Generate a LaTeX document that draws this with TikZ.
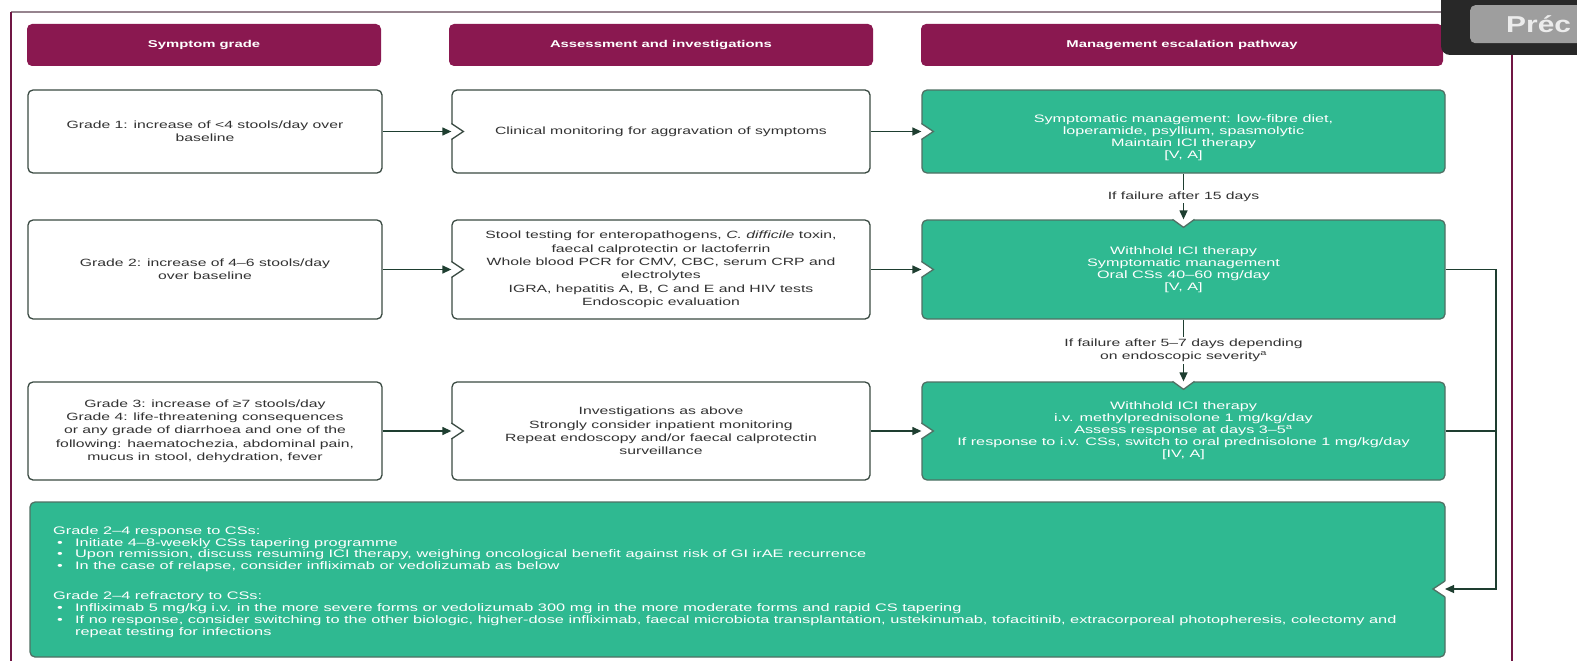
\documentclass[tikz,border=0pt]{standalone}
\usepackage{fontspec}
\setmainfont{Liberation Sans}[FakeStretch=1.5]
\newfontfamily\precfont{Liberation Sans}[FakeStretch=1.3]
\usetikzlibrary{arrows.meta}
\definecolor{hdrpurple}{RGB}{138,24,80}
\definecolor{framepurple}{RGB}{112,22,68}
\definecolor{framegray}{RGB}{150,132,142}
\definecolor{mgreen}{RGB}{47,185,145}
\definecolor{gline}{RGB}{80,112,100}
\definecolor{wline}{RGB}{58,74,66}
\definecolor{linkgreen}{RGB}{30,62,48}
\definecolor{txtgray}{RGB}{50,50,50}
\definecolor{precdark}{RGB}{40,40,40}
\definecolor{precgray}{RGB}{158,158,158}
\definecolor{precwhite}{RGB}{236,236,236}
\tikzset{
  hdr/.style={rectangle, rounded corners=5pt, fill=hdrpurple, minimum height=42pt, inner sep=0pt, text=white, font=\bfseries\fontsize{9.9}{12}\selectfont},
  wbox/.style={rectangle, rounded corners=5pt, draw=wline, line width=1.3pt, fill=white, text=txtgray, align=center, inner sep=0pt, font=\fontsize{10.5}{13.3}\selectfont},
  gbox/.style={rectangle, rounded corners=5pt, draw=gline, line width=1.3pt, fill=mgreen, text=white, align=center, inner sep=0pt, font=\fontsize{10.8}{12}\selectfont},
  lbl/.style={fill=white, text=txtgray, align=center, inner sep=2pt, font=\fontsize{10.5}{12.5}\selectfont},
  link/.style={draw=linkgreen, line width=1.3pt},
  arrowed/.style={-{Triangle[length=9pt,width=8pt]}},
}
\newcommand\notchleft[2]{%
  \fill[white] ([shift={(-1.5pt,8pt)}]#1) -- ([yshift=8pt]#1) -- ([xshift=12pt]#1) -- ([yshift=-8pt]#1) -- ([shift={(-1.5pt,-8pt)}]#1) -- cycle;
  \draw[#2, line width=1.3pt] ([yshift=8pt]#1) -- ([xshift=12pt]#1) -- ([yshift=-8pt]#1);}
\newcommand\notchtop[2]{%
  \fill[white] ([shift={(-11pt,1.5pt)}]#1) -- ([xshift=-11pt]#1) -- ([yshift=-8pt]#1) -- ([xshift=11pt]#1) -- ([shift={(11pt,1.5pt)}]#1) -- cycle;
  \draw[#2, line width=1.3pt] ([xshift=-11pt]#1) -- ([yshift=-8pt]#1) -- ([xshift=11pt]#1);}
\newcommand\notchright[2]{%
  \fill[white] ([shift={(1.5pt,8pt)}]#1) -- ([yshift=8pt]#1) -- ([xshift=-12pt]#1) -- ([yshift=-8pt]#1) -- ([shift={(1.5pt,-8pt)}]#1) -- cycle;
  \draw[#2, line width=1.3pt] ([yshift=8pt]#1) -- ([xshift=-12pt]#1) -- ([yshift=-8pt]#1);}
\newcommand\blt{\hspace*{4pt}\makebox[18pt][l]{\textbullet}}

\begin{document}
\begin{tikzpicture}[x=1pt,y=-1pt]
\useasboundingbox (0,0) rectangle (1577,661);
\clip (0,0) rectangle (1577,661);
\draw[framegray, line width=1.4pt] (11,12) -- (1512,12);
\draw[framepurple, line width=1.8pt] (11,12) -- (11,670);
\draw[framepurple, line width=1.8pt] (1512,12) -- (1512,670);

\node[hdr, minimum width=354pt] (hgrade) at (204,45) {Symptom grade};
\node[hdr, minimum width=424pt] (hassess) at (661,45) {Assessment and investigations};
\node[hdr, minimum width=522pt] (hmanage) at (1182,45) {Management escalation pathway};

\node[wbox, minimum width=354pt, minimum height=83pt] (g1) at (205,131.5) {Grade 1: increase of <4 stools/day over\\baseline};
\node[wbox, minimum width=354pt, minimum height=99pt] (g2) at (205,269.5) {Grade 2: increase of 4–6 stools/day\\over baseline};
\node[wbox, minimum width=354pt, minimum height=98pt] (g3) at (205,431) {Grade 3: increase of ≥7 stools/day\\Grade 4: life-threatening consequences\\or any grade of diarrhoea and one of the\\following: haematochezia, abdominal pain,\\mucus in stool, dehydration, fever};

\node[wbox, minimum width=418pt, minimum height=83pt] (m1) at (661,131.5) {Clinical monitoring for aggravation of symptoms};
\node[wbox, minimum width=418pt, minimum height=99pt] (m2) at (661,269.5) {Stool testing for enteropathogens, \textit{C. difficile} toxin,\\faecal calprotectin or lactoferrin\\Whole blood PCR for CMV, CBC, serum CRP and\\electrolytes\\IGRA, hepatitis A, B, C and E and HIV tests\\Endoscopic evaluation};
\node[wbox, minimum width=418pt, minimum height=98pt] (m3) at (661,431) {Investigations as above\\Strongly consider inpatient monitoring\\Repeat endoscopy and/or faecal calprotectin\\surveillance};

\node[gbox, minimum width=523pt, minimum height=83pt] (r1) at (1183.5,131.5) {};
\node[text=white, align=center, inner sep=0pt, font=\fontsize{10.8}{12}\selectfont] (r1text) at (1183.5,138) {Symptomatic management: low-fibre diet,\\loperamide, psyllium, spasmolytic\\Maintain ICI therapy\\{[V, A]}};
\node[gbox, minimum width=523pt, minimum height=99pt] (r2) at (1183.5,269.5) {Withhold ICI therapy\\Symptomatic management\\Oral CSs 40–60 mg/day\\{[V, A]}};
\node[gbox, minimum width=523pt, minimum height=98pt] (r3) at (1183.5,431) {Withhold ICI therapy\\i.v. methylprednisolone 1 mg/kg/day\\Assess response at days 3–5\textsuperscript{a}\\If response to i.v. CSs, switch to oral prednisolone 1 mg/kg/day\\{[IV, A]}};

\node[gbox, minimum width=1415pt, minimum height=155pt] (cs) at (737.5,579.5) {};
\node[anchor=north west, text=white, align=left, inner sep=0pt, font=\fontsize{10.9}{11.9}\selectfont] (cstext) at (53,526) {Grade 2–4 response to CSs:\\
\blt Initiate 4–8-weekly CSs tapering programme\\
\blt Upon remission, discuss resuming ICI therapy, weighing oncological benefit against risk of GI irAE recurrence\\
\blt In the case of relapse, consider infliximab or vedolizumab as below\\[18pt]
Grade 2–4 refractory to CSs:\\
\blt Infliximab 5 mg/kg i.v. in the more severe forms or vedolizumab 300 mg in the more moderate forms and rapid CS tapering\\
\blt If no response, consider switching to the other biologic, higher-dose infliximab, faecal microbiota transplantation, ustekinumab, tofacitinib, extracorporeal photopheresis, colectomy and\\
\hspace*{22pt}repeat testing for infections};

\notchleft{m1.west}{wline}
\notchleft{m2.west}{wline}
\notchleft{m3.west}{wline}
\notchleft{r1.west}{gline}
\notchleft{r2.west}{gline}
\notchleft{r3.west}{gline}
\notchtop{r2.north}{gline}
\notchtop{r3.north}{gline}
\coordinate (csin) at (1445,589);
\notchright{csin}{gline}

\draw[link, arrowed] (g1.east) -- (m1.west);
\draw[link, arrowed] (g2.east) -- (m2.west);
\draw[link, arrowed] (g3.east) -- (m3.west);
\draw[link, arrowed] (m1.east) -- (r1.west);
\draw[link, arrowed] (m2.east) -- (r2.west);
\draw[link, arrowed] (m3.east) -- (r3.west);
\draw[link, arrowed] (r1.south) -- node[lbl] (fail1) {If failure after 15 days} (r2.north);
\draw[link, arrowed] (r2.south) -- node[lbl] (fail2) {If failure after 5–7 days depending\\on endoscopic severity\textsuperscript{a}} (r3.north);
\coordinate (bus) at (1496,269.5);
\draw[link] (r3.east) -- (r3.east -| bus);
\draw[link, arrowed] (r2.east) -- (bus) |- (csin);

\fill[precdark, rounded corners=9pt] (1441,-20) rectangle (1620,55);
\node[fill=precgray, rounded corners=5pt, minimum width=140pt, minimum height=38pt, anchor=north west] (precbtn) at (1470,5) {};
\node[anchor=base west, inner sep=0pt, text=precwhite, font=\precfont\bfseries\fontsize{23}{26}\selectfont] (prec) at (1506,33) {Préc};
\end{tikzpicture}
\end{document}
